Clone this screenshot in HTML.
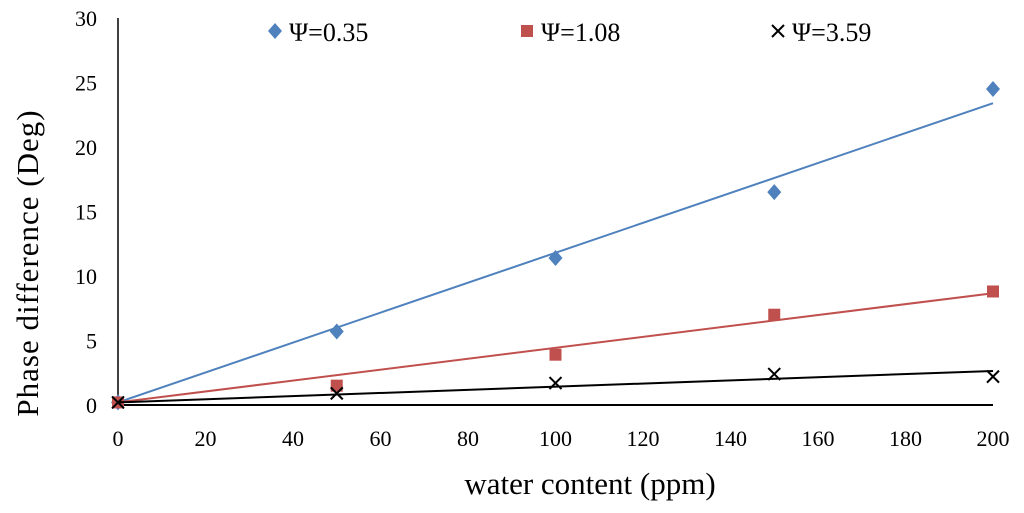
<!DOCTYPE html>
<html><head><meta charset="utf-8"><style>
body{margin:0;background:#fff}
svg text{font-family:"Liberation Serif",serif;fill:#000}
</style></head><body>
<svg id="c" width="1024" height="508" viewBox="0 0 1024 508"></svg>
<script>
const xValues=[0,50,100,150,200];
const seriesA=[0.2,5.7,11.4,16.5,24.5];
const seriesB=[0.2,1.5,3.9,7.0,8.8];
const seriesC=[0.2,0.9,1.7,2.4,2.2];
const xTicks=[0,20,40,60,80,100,120,140,160,180,200];
const yTicks=[0,5,10,15,20,25,30];
const legendLabels=["Ψ=0.35","Ψ=1.08","Ψ=3.59"];
const svg=document.getElementById('c');
const NS='http://www.w3.org/2000/svg';
const X=v=>118+v*(993-118)/200;
const Y=v=>405-v*(405-18)/30;
function mk(t,a,p){const e=document.createElementNS(NS,t);for(const k in a)e.setAttribute(k,a[k]);(p||svg).appendChild(e);return e;}
let e;
e=mk('line',{x1:118,y1:18,x2:118,y2:405,stroke:'#000','stroke-width':1.5});


e=mk('line',{x1:118,y1:405,x2:993,y2:405,stroke:'#000','stroke-width':2});


yTicks.forEach(v=>{e=mk('text',{x:97,y:Y(v)+8,'text-anchor':'end','font-size':22});e.textContent=v;

});
xTicks.forEach(v=>{e=mk('text',{x:X(v),y:446,'text-anchor':'middle','font-size':22});e.textContent=v;

});
e=mk('text',{x:590,y:494,'text-anchor':'middle','font-size':31});e.textContent='water content (ppm)';


e=mk('text',{x:0,y:0,'text-anchor':'middle','font-size':31,'letter-spacing':1,transform:'translate(38,263) rotate(-90)'});e.textContent='Phase difference (Deg)';


function fit(ys){const a=ys[0];let num=0,den=0;xValues.forEach((x,i)=>{num+=x*(ys[i]-a);den+=x*x;});return [a,num/den];}
const series=[[seriesA,'#4f81bd','diamond'],[seriesB,'#c0504d','square'],[seriesC,'#000','x']];
function marker(type,cx,cy,col){
 if(type==='diamond')return mk('polygon',{points:`${cx},${cy-8} ${cx+7},${cy} ${cx},${cy+8} ${cx-7},${cy}`,fill:col});
 if(type==='square')return mk('rect',{x:cx-6,y:cy-6,width:12,height:12,fill:col});
 return mk('path',{d:`M${cx-6} ${cy-6}L${cx+6} ${cy+6}M${cx+6} ${cy-6}L${cx-6} ${cy+6}`,stroke:col,'stroke-width':2});
}
series.forEach(([ys,col,type],si)=>{
 const [a,b]=fit(ys);
 e=mk('line',{x1:X(0),y1:Y(a),x2:X(200),y2:Y(a+b*200),stroke:col,'stroke-width':2});
 
 
 ys.forEach((v,i)=>{e=marker(type,X(xValues[i]),Y(v),col);
  
  });
 const lx=[275,527,778][si];
 e=marker(type,lx,31,col);
 
 
 e=mk('text',{x:lx+14,y:41,'font-size':26});e.textContent=legendLabels[si];
 
 
});
</script>
</body></html>
